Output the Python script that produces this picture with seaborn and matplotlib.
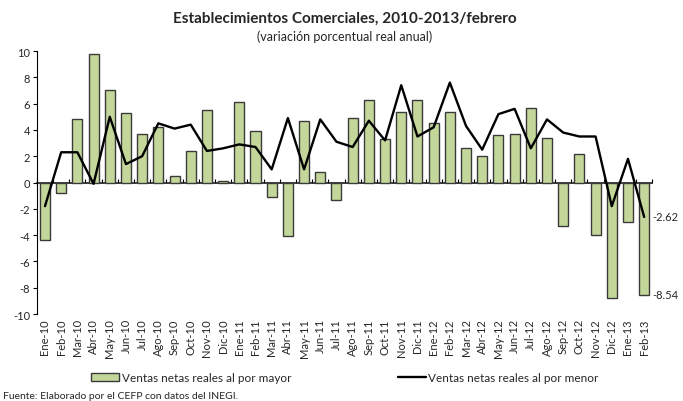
import numpy as np
import pandas as pd
import matplotlib
matplotlib.use("Agg")
import matplotlib.pyplot as plt
import seaborn as sns
from matplotlib.patches import Patch
from matplotlib.lines import Line2D

meses = ["Ene-10", "Feb-10", "Mar-10", "Abr-10", "May-10", "Jun-10", "Jul-10", "Ago-10",
         "Sep-10", "Oct-10", "Nov-10", "Dic-10", "Ene-11", "Feb-11", "Mar-11", "Abr-11",
         "May-11", "Jun-11", "Jul-11", "Ago-11", "Sep-11", "Oct-11", "Nov-11", "Dic-11",
         "Ene-12", "Feb-12", "Mar-12", "Abr-12", "May-12", "Jun-12", "Jul-12", "Ago-12",
         "Sep-12", "Oct-12", "Nov-12", "Dic-12", "Ene-13", "Feb-13"]

por_mayor = [-4.4, -0.8, 4.8, 9.8, 7.0, 5.3, 3.7, 4.2, 0.5, 2.4, 5.5, 0.1,
             6.1, 3.9, -1.1, -4.1, 4.7, 0.8, -1.3, 4.9, 6.3, 3.3, 5.4, 6.3,
             4.5, 5.4, 2.6, 2.0, 3.6, 3.7, 5.7, 3.4, -3.3, 2.2, -4.0, -8.8,
             -3.0, -8.54]

por_menor = [-1.8, 2.3, 2.3, -0.1, 5.0, 1.4, 2.0, 4.5, 4.1, 4.4, 2.4, 2.6,
             2.9, 2.7, 1.0, 4.9, 1.0, 4.8, 3.1, 2.7, 4.7, 3.2, 7.4, 3.5,
             4.2, 7.6, 4.3, 2.5, 5.2, 5.6, 2.6, 4.8, 3.8, 3.5, 3.5, -1.8,
             1.8, -2.62]

yticks = list(range(-10, 11, 2))

titulo = "Establecimientos Comerciales, 2010-2013/febrero"
subtitulo = "(variación porcentual real anual)"
lbl_mayor = "Ventas netas reales al por mayor"
lbl_menor = "Ventas netas reales al por menor"
fuente = "Fuente: Elaborado por el CEFP con datos del INEGI."

sns.set_theme(style="white")
plt.rcParams["font.family"] = ["Lato", "DejaVu Sans"]

bar_color = "#C4D79B"
edge_color = "#3a3a3a"

df = pd.DataFrame({"mes": meses, "mayor": por_mayor, "menor": por_menor,
                   "pos": np.arange(len(meses))})

fig = plt.figure(figsize=(6.83, 4.02), dpi=100)
ax = fig.add_axes([0.054, 0.2164, 0.901, 0.6542])

sns.barplot(data=df, x="mes", y="mayor", color=bar_color, edgecolor=edge_color,
            linewidth=1.0, width=0.62, saturation=1, ax=ax)
sns.lineplot(data=df, x="pos", y="menor", color="black", linewidth=1.7,
             sort=False, ax=ax)

n = len(meses)
ax.set_xlim(-0.5, n - 0.5)
ax.set_ylim(-10, 10)
ax.set_yticks(yticks)
ax.set_yticklabels([str(v) for v in yticks], fontsize=8)
ax.set_xticks(np.arange(n))
ax.set_xticklabels(meses, rotation=90, fontsize=8)
ax.tick_params(axis="x", length=0, pad=3)
ax.tick_params(axis="y", direction="out", length=3, width=0.8, color="black", left=True, pad=2)
ax.set_xlabel("")
ax.set_ylabel("")

for s in ["top", "right", "bottom"]:
    ax.spines[s].set_visible(False)
ax.spines["left"].set_color("black")
ax.spines["left"].set_linewidth(0.8)

# zero axis line with ticks between categories
sec = ax.secondary_xaxis(0.5)
sec.set_xticks(np.arange(n + 1) - 0.5)
sec.set_xticklabels([])
sec.tick_params(direction="out", length=3, width=0.8, color="black")
sec.spines["bottom"].set_color("black")
sec.spines["bottom"].set_linewidth(0.8)

# end-value labels
ax.annotate(f"{por_menor[-1]:.2f}", xy=(n - 1, por_menor[-1]), xytext=(6, 0),
            textcoords="offset points", va="center", ha="left", fontsize=8)
ax.annotate(f"{por_mayor[-1]:.2f}", xy=(n - 1, por_mayor[-1]), xytext=(6, 0),
            textcoords="offset points", va="center", ha="left", fontsize=8)

fig.text(0.505, 0.952, titulo, ha="center", va="center", fontsize=11, fontweight="bold")
fig.text(0.505, 0.908, subtitulo, ha="center", va="center", fontsize=9)

handles = [Patch(facecolor=bar_color, edgecolor=edge_color, linewidth=1.0, label=lbl_mayor),
           Line2D([0], [0], color="black", linewidth=1.7, label=lbl_menor)]
fig.legend(handles=handles, loc="center", bbox_to_anchor=(0.505, 0.058), ncol=2,
           frameon=False, fontsize=8.5, columnspacing=9, handlelength=2.4,
           handletextpad=0.2)

fig.text(0.004, 0.003, fuente, ha="left", va="bottom", fontsize=7.5)

fig.savefig("out.png", dpi=100)
